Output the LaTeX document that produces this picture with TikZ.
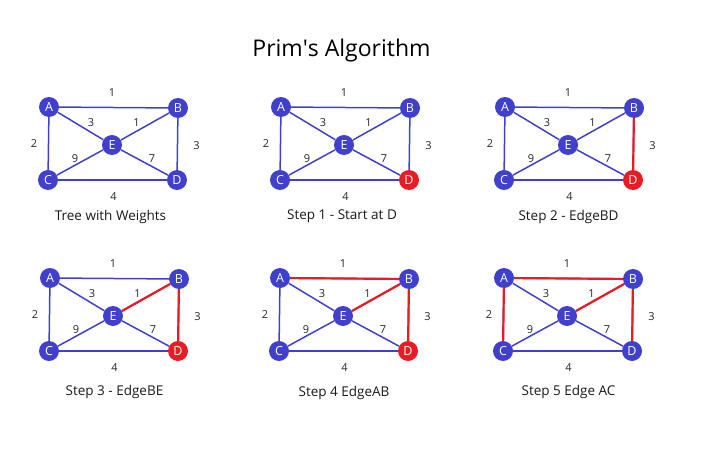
\documentclass[tikz,border=0pt]{standalone}
\usepackage{fontspec}
\setmainfont{Open Sans}
\definecolor{primblue}{RGB}{64,64,204}
\definecolor{primred}{RGB}{232,28,36}
\tikzset{
  vert/.style={circle, fill=primblue, text=white, inner sep=0pt, minimum size=20pt,
    font=\fontsize{12.5}{12.5}\selectfont},
  edge/.style={draw=primblue, line width=1.5pt},
  pick/.style={draw=primred, line width=2.2pt},
  weight/.style={text=black!85, inner sep=0pt, font=\fontsize{11}{11}\selectfont},
  caption/.style={text=black!90, inner sep=0pt, font=\fontsize{13.5}{13.5}\selectfont}
}
\begin{document}
\begin{tikzpicture}[x=1pt, y=-1pt]
    \useasboundingbox (0,0) rectangle (715,452);
    \node[inner sep=0pt, font=\fontsize{23}{23}\selectfont] (title) at (341.5,50.5) {Prim\textquotesingle s Algorithm};

    % One panel per step: index / position of A / caption x,y / colour of D / caption
    \foreach \i/\ox/\oy/\cx/\cy/\dc/\txt in {
        1/49/107/61.5/109.5/primblue/{Tree with Weights},
        2/281/107/61/109.5/primred/{Step 1 - Start at D},
        3/505/107/63.5/109.5/primred/{Step 2 - EdgeBD},
        4/50/278/64.5/113.5/primred/{Step 3 - EdgeBE},
        5/280/278/64/115/primred/{Step 4 EdgeAB},
        6/504/278/64.5/114/primblue/{Step 5 Edge AC}} {
      \begin{scope}[shift={(\ox,\oy)}]
        % Nodes
        \node[vert] (A\i) at (0,0) {A};
        \node[vert] (B\i) at (129,1) {B};
        \node[vert] (C\i) at (-1,73) {C};
        \node[vert, fill=\dc] (D\i) at (128,73) {D};
        \node[vert] (E\i) at (63,38) {E};

        % Edges
        \foreach \u/\v in {A/B, A/C, A/E, B/E, B/D, C/E, C/D, D/E}
          \draw[edge] (\u\i) -- (\v\i);

        % Weights
        \foreach \w/\lx/\ly/\n in {1/63/-14/AB, 2/-15/37/AC, 3/42/15.5/AE, 1/87.5/15.5/BE,
                                   3/147.5/38.5/BD, 9/26/51.5/CE, 4/64.5/90/CD, 7/103/52/DE}
          \node[weight] (w\n\i) at (\lx,\ly) {\w};

        \node[caption] (cap\i) at (\cx,\cy) {\txt};
      \end{scope}
    }

    % Edges picked so far
    \draw[pick] (B3) -- (D3);
    \draw[pick] (B4) -- (D4);
    \draw[pick] (B4) -- (E4);
    \draw[pick] (B5) -- (D5);
    \draw[pick] (B5) -- (E5);
    \draw[pick] (A5) -- (B5);
    \draw[pick] (B6) -- (D6);
    \draw[pick] (B6) -- (E6);
    \draw[pick] (A6) -- (B6);
    \draw[pick] (A6) -- (C6);
\end{tikzpicture}
\end{document}
